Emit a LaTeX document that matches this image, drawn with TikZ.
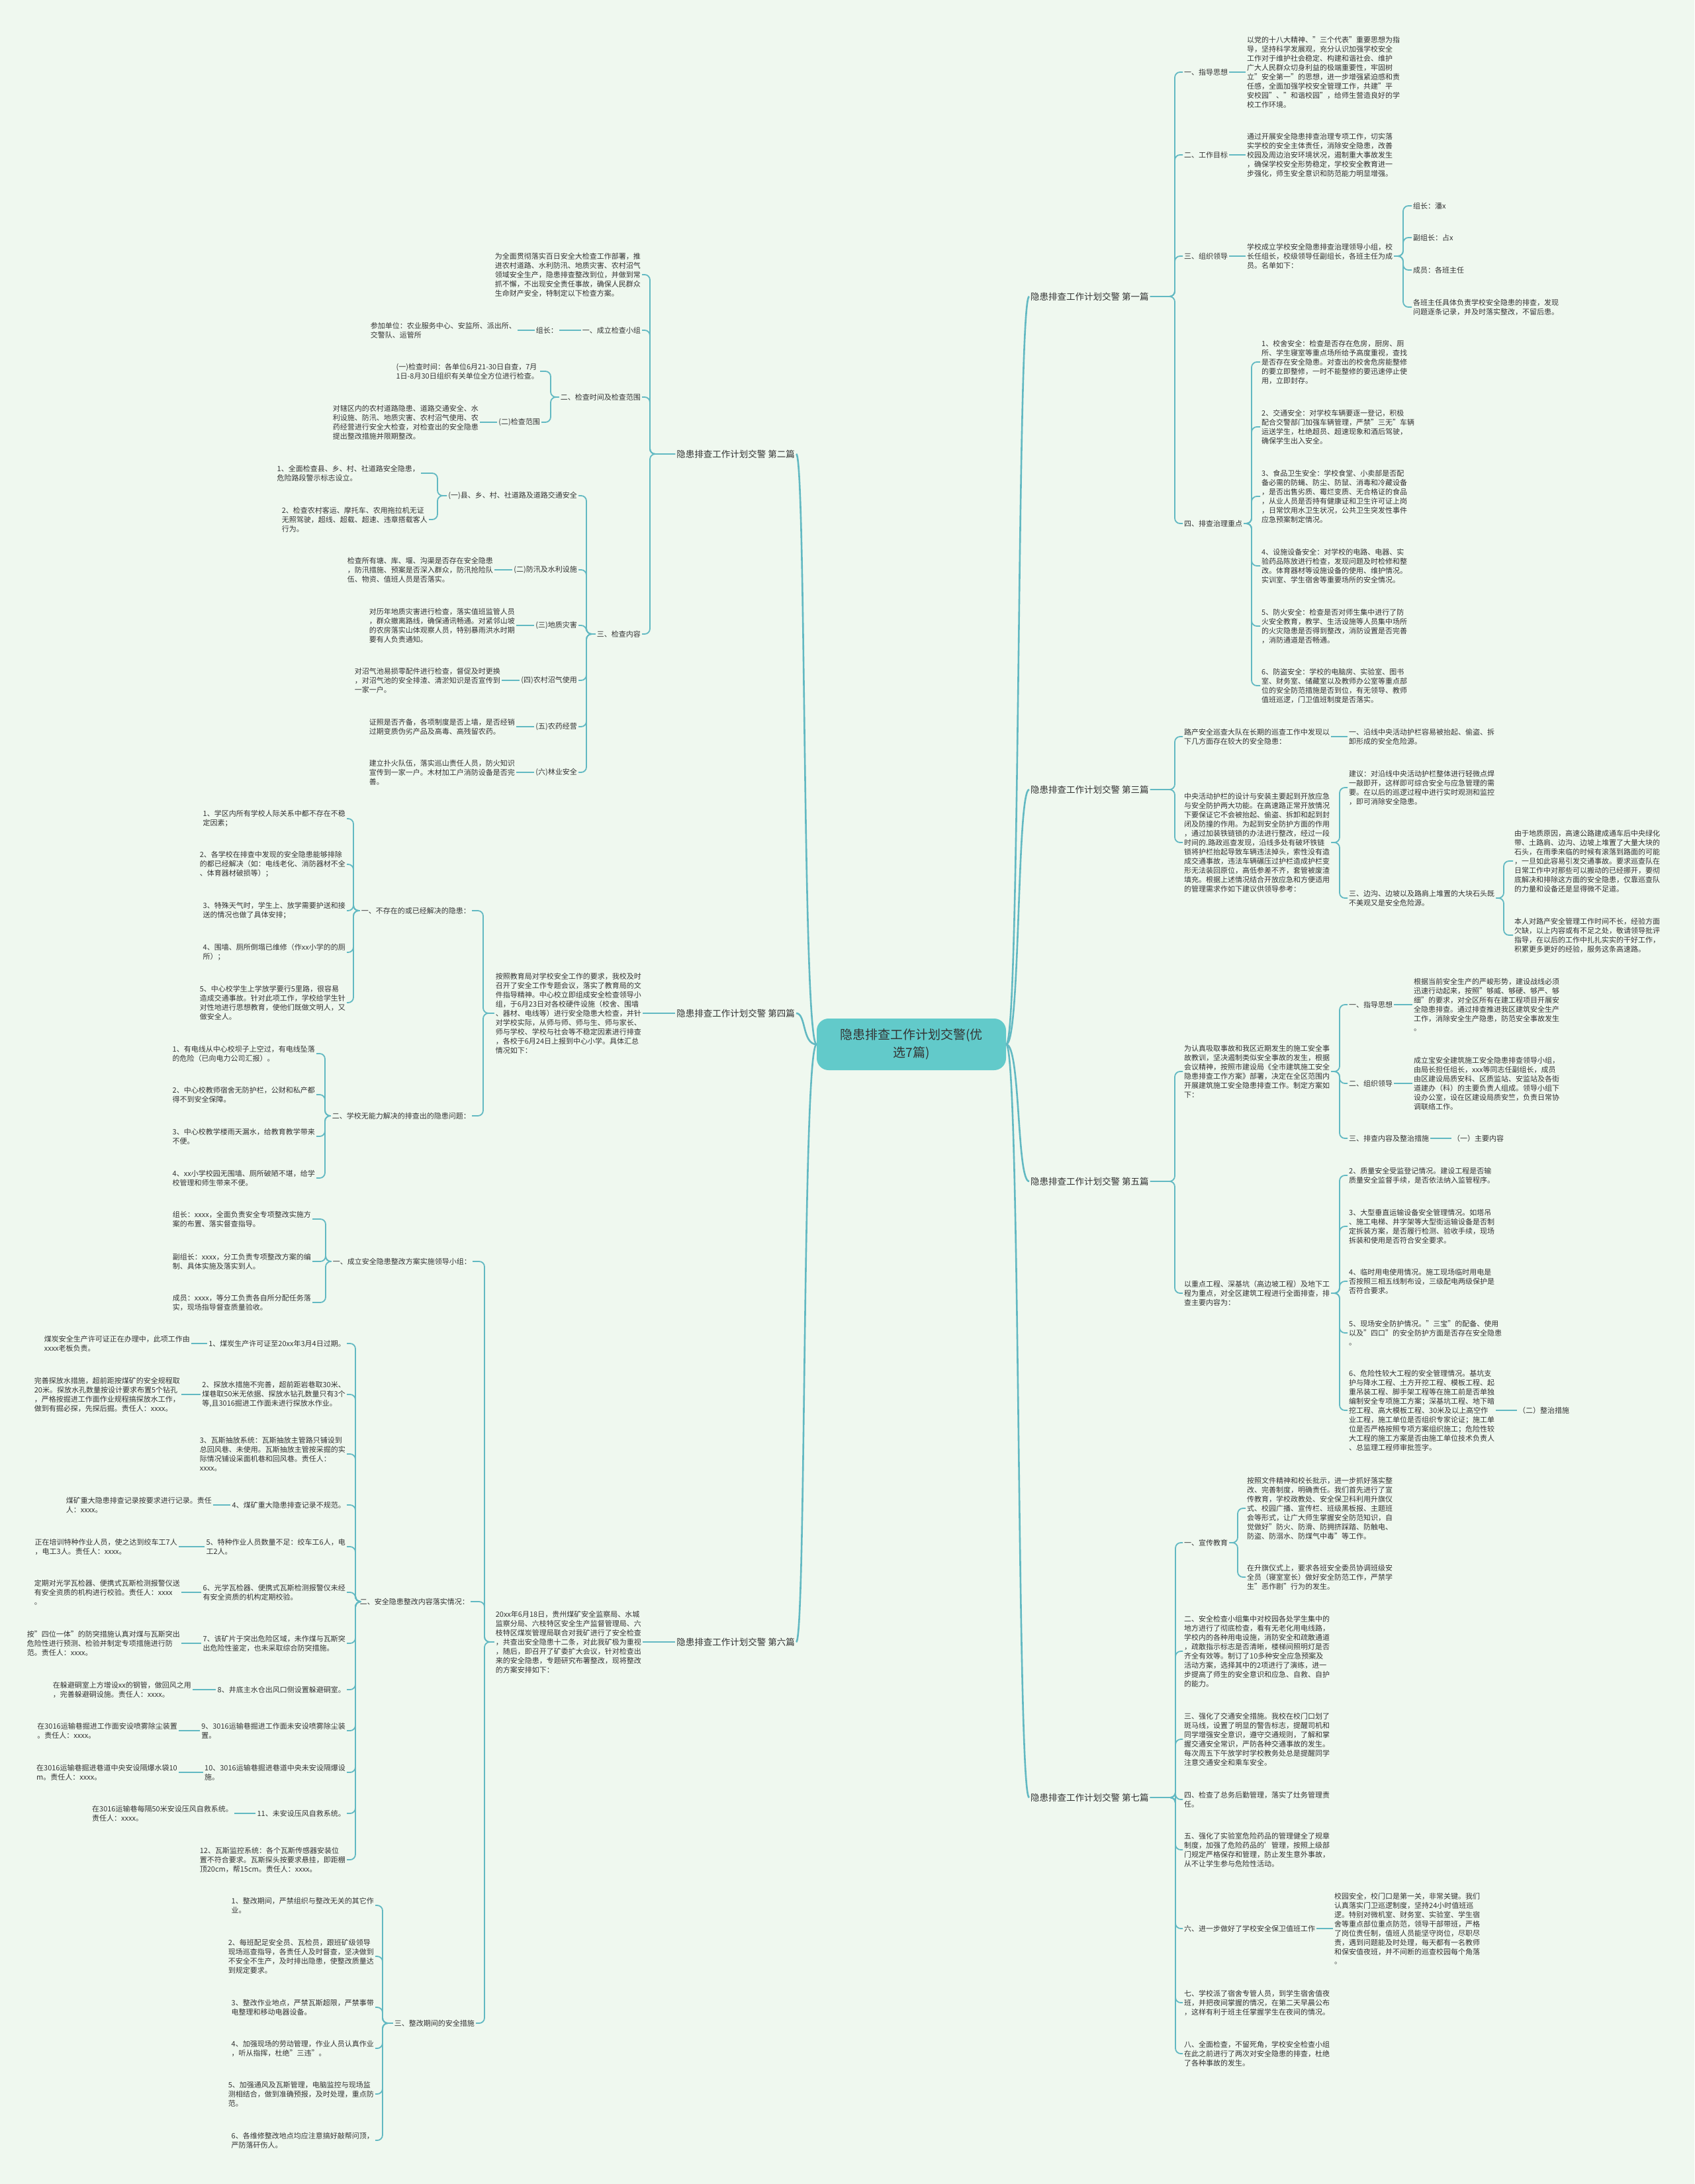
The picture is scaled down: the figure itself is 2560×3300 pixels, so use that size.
\documentclass[tikz,border=0pt]{standalone}
\usepackage{fontspec}
\setmainfont{Noto Sans CJK SC}
\definecolor{bgc}{HTML}{EFF8EF}
\definecolor{linec}{HTML}{62B9C2}
\definecolor{ctrc}{HTML}{62CACA}
\definecolor{txt}{HTML}{333333}
\tikzset{
  t/.style={font=\fontsize{11}{14}\selectfont, text=txt, align=left, inner sep=2pt},
  tr/.style={t, anchor=west},
  tl/.style={t, anchor=east},
  lab/.style={font=\fontsize{13.5}{16}\selectfont, text=txt, inner sep=2pt},
  conn/.style={draw=linec, line width=1.8pt, rounded corners=8pt},
  mainc/.style={draw=linec, line width=2.6pt},
}
\newcommand\myrc[3]{\draw[conn] (#1.east) -- (#2,0 |- #1.east) |- (#3.west);}
\newcommand\mylc[3]{\draw[conn] (#1.west) -- (#2,0 |- #1.west) |- (#3.east);}
\newcommand\mysr[2]{\draw[conn] (#1.east) -- (#2.west);}
\newcommand\mysl[2]{\draw[conn] (#1.west) -- (#2.east);}
\begin{document}
\begin{tikzpicture}[x=1pt,y=-1pt]
\fill[bgc] (0,0) rectangle (2560,3300);
\useasboundingbox (0,0) rectangle (2560,3300);

% centre
\node[draw=none, fill=ctrc, rounded corners=18pt, minimum width=286pt, minimum height=78pt, align=center, text=txt, font=\fontsize{19}{27}\selectfont] (ctr) at (1377,1578) {隐患排查工作计划交警(优\\选7篇)};

% level-1 labels
\node[lab,anchor=west] (r1) at (1555,448) {隐患排查工作计划交警 第一篇};
\node[lab,anchor=west] (r3) at (1555,1193) {隐患排查工作计划交警 第三篇};
\node[lab,anchor=west] (r5) at (1555,1785) {隐患排查工作计划交警 第五篇};
\node[lab,anchor=west] (r7) at (1555,2716) {隐患排查工作计划交警 第七篇};
\node[lab,anchor=east] (l2) at (1203,686) {隐患排查工作计划交警 第二篇};
\node[lab,anchor=east] (l4) at (1203,1531) {隐患排查工作计划交警 第四篇};
\node[lab,anchor=east] (l6) at (1203,2481) {隐患排查工作计划交警 第六篇};

\foreach \n in {r1,r3,r5,r7}{
  \draw[mainc] (ctr.east) .. controls (1542,1578) and (1536,0 |- \n.west) .. (\n.west);
}
\foreach \n in {l2,l4,l6}{
  \draw[mainc] (ctr.west) .. controls (1212,1578) and (1218,0 |- \n.east) .. (\n.east);
}

% ================= 第一篇 =================
\node[tr] (a1) at (1787,109) {一、指导思想};
\node[tr] (a1t) at (1882,109) {以党的十八大精神、"三个代表"重要思想为指\\导，坚持科学发展观，充分认识加强学校安全\\工作对于维护社会稳定、构建和谐社会、维护\\广大人民群众切身利益的极端重要性，牢固树\\立"安全第一"的思想，进一步增强紧迫感和责\\任感，全面加强学校安全管理工作，共建"平\\安校园"、"和谐校园"，给师生营造良好的学\\校工作环境。};
\node[tr] (a2) at (1787,234) {二、工作目标};
\node[tr] (a2t) at (1882,234) {通过开展安全隐患排查治理专项工作，切实落\\实学校的安全主体责任，消除安全隐患，改善\\校园及周边治安环境状况，遏制重大事故发生\\，确保学校安全形势稳定，学校安全教育进一\\步强化，师生安全意识和防范能力明显增强。};
\node[tr] (a3) at (1787,387) {三、组织领导};
\node[tr] (a3t) at (1882,387) {学校成立学校安全隐患排查治理领导小组，校\\长任组长，校级领导任副组长，各班主任为成\\员。名单如下：};
\node[tr] (a3a) at (2133,311) {组长：潘x};
\node[tr] (a3b) at (2133,359) {副组长：占x};
\node[tr] (a3c) at (2133,408) {成员：各班主任};
\node[tr] (a3d) at (2133,464) {各班主任具体负责学校安全隐患的排查，发现\\问题逐条记录，并及时落实整改，不留后患。};
\node[tr] (a4) at (1787,791) {四、排查治理重点};
\node[tr] (a41) at (1904,547) {1、校舍安全：检查是否存在危房，厨房、厕\\所、学生寝室等重点场所给予高度重视，查找\\是否存在安全隐患。对查出的校舍危房能整修\\的要立即整修，一时不能整修的要迅速停止使\\用，立即封存。};
\node[tr] (a42) at (1904,645) {2、交通安全：对学校车辆要逐一登记，积极\\配合交警部门加强车辆管理，严禁"三无"车辆\\运送学生，杜绝超员、超速现象和酒后驾驶，\\确保学生出入安全。};
\node[tr] (a43) at (1904,750) {3、食品卫生安全：学校食堂、小卖部是否配\\备必需的防蝇、防尘、防鼠、消毒和冷藏设备\\，是否出售劣质、霉烂变质、无合格证的食品\\，从业人员是否持有健康证和卫生许可证上岗\\，日常饮用水卫生状况，公共卫生突发性事件\\应急预案制定情况。};
\node[tr] (a44) at (1904,855) {4、设施设备安全：对学校的电路、电器、实\\验药品陈放进行检查，发现问题及时检修和整\\改。体育器材等设施设备的使用、维护情况。\\实训室、学生宿舍等重要场所的安全情况。};
\node[tr] (a45) at (1904,946) {5、防火安全：检查是否对师生集中进行了防\\火安全教育，教学、生活设施等人员集中场所\\的火灾隐患是否得到整改，消防设置是否完善\\，消防通道是否畅通。};
\node[tr] (a46) at (1904,1036) {6、防盗安全：学校的电脑房、实验室、图书\\室、财务室、储藏室以及教师办公室等重点部\\位的安全防范措施是否到位，有无领导、教师\\值班巡逻，门卫值班制度是否落实。};
\foreach \c in {a1,a2,a3,a4}{\myrc{r1}{1775}{\c}}
\mysr{a1}{a1t}\mysr{a2}{a2t}\mysr{a3}{a3t}
\foreach \c in {a3a,a3b,a3c,a3d}{\myrc{a3t}{2120}{\c}}
\foreach \c in {a41,a42,a43,a44,a45,a46}{\myrc{a4}{1891}{\c}}

% ================= 第三篇 =================
\node[tr] (b1) at (1787,1113) {路产安全巡查大队在长期的巡查工作中发现以\\下几方面存在较大的安全隐患：};
\node[tr] (b1a) at (2036,1113) {一、沿线中央活动护栏容易被抬起、偷盗、拆\\卸形成的安全危险源。};
\node[tr] (b2) at (1787,1273) {中央活动护栏的设计与安装主要起到开放应急\\与安全防护两大功能。在高速路正常开放情况\\下要保证它不会被抬起、偷盗、拆卸和起到封\\闭及防撞的作用。为起到安全防护方面的作用\\，通过加装铁链锁的办法进行整改，经过一段\\时间的.路政巡查发现，沿线多处有破坏铁链\\锁将护栏抬起导致车辆违法掉头，索性没有造\\成交通事故，违法车辆碾压过护栏造成护栏变\\形无法装回原位，高低参差不齐，套管被废渣\\填充。根据上述情况结合开放应急和方便适用\\的管理需求作如下建议供领导参考：};
\node[tr] (b2a) at (2036,1190) {建议：对沿线中央活动护栏整体进行轻微点焊\\一敲即开，这样即可综合安全与应急管理的需\\要。在以后的巡逻过程中进行实时观测和监控\\，即可消除安全隐患。};
\node[tr] (b2b) at (2036,1357) {三、边沟、边坡以及路肩上堆置的大块石头既\\不美观又是安全危险源。};
\node[tr] (b2b1) at (2286,1301) {由于地质原因，高速公路建成通车后中央绿化\\带、土路肩、边沟、边坡上堆置了大量大块的\\石头，在雨季来临的时候有滚落到路面的可能\\，一旦如此容易引发交通事故。要求巡查队在\\日常工作中对那些可以搬动的已经挪开，要彻\\底解决和排除这方面的安全隐患，仅靠巡查队\\的力量和设备还是显得微不足道。};
\node[tr] (b2b2) at (2286,1413) {本人对路产安全管理工作时间不长，经验方面\\欠缺，以上内容或有不足之处，敬请领导批评\\指导，在以后的工作中扎扎实实的干好工作，\\积累更多更好的经验，服务这条高速路。};
\myrc{r3}{1775}{b1}\myrc{r3}{1775}{b2}
\mysr{b1}{b1a}
\myrc{b2}{2024}{b2a}\myrc{b2}{2024}{b2b}
\myrc{b2b}{2272}{b2b1}\myrc{b2b}{2272}{b2b2}

% ================= 第五篇 =================
\node[tr] (c1) at (1787,1619) {为认真吸取事故和我区近期发生的施工安全事\\故教训，坚决遏制类似安全事故的发生，根据\\会议精神，按照市建设局《全市建筑施工安全\\隐患排查工作方案》部署，决定在全区范围内\\开展建筑施工安全隐患排查工作。制定方案如\\下：};
\node[tr] (c1a) at (2036,1518) {一、指导思想};
\node[tr] (c1at) at (2134,1518) {根据当前安全生产的严峻形势，建设战线必须\\迅速行动起来，按照"够威、够硬、够严、够\\细"的要求，对全区所有在建工程项目开展安\\全隐患排查。通过排查推进我区建筑安全生产\\工作，消除安全生产隐患，防范安全事故发生\\。};
\node[tr] (c1b) at (2036,1637) {二、组织领导};
\node[tr] (c1bt) at (2134,1637) {成立宝安全建筑施工安全隐患排查领导小组，\\由局长担任组长，xxx等同志任副组长，成员\\由区建设局质安科、区质监站、安监站及各街\\道建办（科）的主要负责人组成。领导小组下\\设办公室，设在区建设局质安竺，负责日常协\\调联络工作。};
\node[tr] (c1c) at (2036,1720) {三、排查内容及整治措施};
\node[tr] (c1ct) at (2193,1720) {（一）主要内容};
\node[tr] (c2) at (1787,1954) {以重点工程、深基坑（高边坡工程）及地下工\\程为重点，对全区建筑工程进行全面排查，排\\查主要内容为：};
\node[tr] (c22) at (2036,1776) {2、质量安全受监登记情况。建设工程是否输\\质量安全监督手续，是否依法纳入监管程序。};
\node[tr] (c23) at (2036,1853) {3、大型垂直运输设备安全管理情况。如塔吊\\、施工电梯、井字架等大型街运输设备是否制\\定拆装方案，是否履行检测、验收手续，现场\\拆装和使用是否符合安全要求。};
\node[tr] (c24) at (2036,1936) {4、临时用电使用情况。施工现场临时用电是\\否按照三相五线制布设，三级配电两级保护是\\否符合要求。};
\node[tr] (c25) at (2036,2014) {5、现场安全防护情况。"三宝"的配备、使用\\以及"四口"的安全防护方面是否存在安全隐患\\。};
\node[tr] (c26) at (2036,2131) {6、危险性较大工程的安全管理情况。基坑支\\护与降水工程、土方开挖工程、模板工程、起\\重吊装工程、脚手架工程等在施工前是否单独\\编制安全专项施工方案；深基坑工程、地下暗\\挖工程、高大模板工程、30米及以上高空作\\业工程，施工单位是否组织专家论证；施工单\\位是否严格按照专项方案组织施工；危险性较\\大工程的施工方案是否由施工单位技术负责人\\、总监理工程师审批签字。};
\node[tr] (c26a) at (2292,2131) {（二）整治措施};
\myrc{r5}{1775}{c1}\myrc{r5}{1775}{c2}
\foreach \c in {c1a,c1b,c1c}{\myrc{c1}{2024}{\c}}
\mysr{c1a}{c1at}\mysr{c1b}{c1bt}\mysr{c1c}{c1ct}
\foreach \c in {c22,c23,c24,c25,c26}{\myrc{c2}{2024}{\c}}
\mysr{c26}{c26a}

% ================= 第七篇 =================
\node[tr] (d1) at (1787,2331) {一、宣传教育};
\node[tr] (d1a) at (1882,2279) {按照文件精神和校长批示，进一步抓好落实整\\改、完善制度，明确责任。我们首先进行了宣\\传教育，学校政教处、安全保卫科利用升旗仪\\式、校园广播、宣传栏、班级黑板报、主题班\\会等形式，让广大师生掌握安全防范知识，自\\觉做好"防火、防滑、防拥挤踩踏、防触电、\\防盗、防溺水、防煤气中毒"等工作。};
\node[tr] (d1b) at (1882,2383) {在升旗仪式上，要求各班安全委员协调班级安\\全员（寝室室长）做好安全防范工作，严禁学\\生"恶作剧"行为的发生。};
\node[tr] (d2) at (1787,2495) {二、安全检查小组集中对校园各处学生集中的\\地方进行了彻底检查，看有无老化用电线路，\\学校内的各种用电设施，消防安全和疏散通道\\，疏散指示标志是否清晰，楼梯间照明灯是否\\齐全有效等。制订了10多种安全应急预案及\\活动方案，选择其中的2项进行了演练，进一\\步提高了师生的安全意识和应急、自救、自护\\的能力。};
\node[tr] (d3) at (1787,2628) {三、强化了交通安全措施。我校在校门口划了\\斑马线，设置了明显的警告标志，提醒司机和\\同学增强安全意识，遵守交通规则，了解和掌\\握交通安全常识，严防各种交通事故的发生。\\每次周五下午放学时学校教务处总是提醒同学\\注意交通安全和乘车安全。};
\node[tr] (d4) at (1787,2719) {四、检查了总务后勤管理，落实了灶务管理责\\任。};
\node[tr] (d5) at (1787,2795) {五、强化了实验室危险药品的管理健全了规章\\制度，加强了危险药品的'管理，按照上级部\\门规定严格保存和管理，防止发生意外事故，\\从不让学生参与危险性活动。};
\node[tr] (d6) at (1787,2914) {六、进一步做好了学校安全保卫值班工作};
\node[tr] (d6t) at (2014,2914) {校园安全，校门口是第一关，非常关键。我们\\认真落实门卫巡逻制度，坚持24小时值班巡\\逻。特别对微机室、财务室、实验室、学生宿\\舍等重点部位重点防范，领导干部带班，严格\\了岗位责任制，值班人员能坚守岗位，尽职尽\\责，遇到问题能及时处理，每天都有一名教师\\和保安值夜班，并不间断的巡查校园每个角落\\。};
\node[tr] (d7) at (1787,3026) {七、学校派了宿舍专管人员，到学生宿舍值夜\\班，并把夜间掌握的情况，在第二天早晨公布\\，这样有利于班主任掌握学生在夜间的情况。};
\node[tr] (d8) at (1787,3103) {八、全面检查，不留死角，学校安全检查小组\\在此之前进行了两次对安全隐患的排查，杜绝\\了各种事故的发生。};
\foreach \c in {d1,d2,d3,d4,d5,d6,d7,d8}{\myrc{r7}{1776}{\c}}
\myrc{d1}{1870}{d1a}\myrc{d1}{1870}{d1b}
\mysr{d6}{d6t}

% ================= 第二篇 =================
\node[tl] (e1) at (970,415) {为全面贯彻落实百日安全大检查工作部署，推\\进农村道路、水利防汛、地质灾害、农村沼气\\领域安全生产，隐患排查整改到位，并做到常\\抓不懈，不出现安全责任事故，确保人民群众\\生命财产安全，特制定以下检查方案。};
\node[tl] (e2) at (970,499) {一、成立检查小组};
\node[tl] (e2z) at (845,499) {组长：};
\node[tl] (e2t) at (782,499) {参加单位：农业服务中心、安监所、派出所、\\交警队、运管所};
\node[tl] (e3) at (970,600) {二、检查时间及检查范围};
\node[tl] (e3a) at (816,561) {(一)检查时间：各单位6月21-30日自查，7月\\1日-8月30日组织有关单位全方位进行检查。};
\node[tl] (e3b) at (818,638) {(二)检查范围};
\node[tl] (e3bt) at (725,638) {对辖区内的农村道路隐患、道路交通安全、水\\利设施、防汛、地质灾害、农村沼气使用、农\\药经营进行安全大检查，对检查出的安全隐患\\提出整改措施并限期整改。};
\node[tl] (e4) at (970,958) {三、检查内容};
\node[tl] (f1) at (874,749) {(一)县、乡、村、社道路及道路交通安全};
\node[tl] (f1a) at (636,715) {1、全面检查县、乡、村、社道路安全隐患，\\危险路段警示标志设立。};
\node[tl] (f1b) at (648,785) {2、检查农村客运、摩托车、农用拖拉机无证\\无照驾驶，超线、超载、超速、违章搭载客人\\行为。};
\node[tl] (f2) at (874,861) {(二)防汛及水利设施};
\node[tl] (f2t) at (747,861) {检查所有塘、库、堰、沟渠是否存在安全隐患\\，防汛措施、预案是否深入群众，防汛抢险队\\伍、物资、值班人员是否落实。};
\node[tl] (f3) at (874,945) {(三)地质灾害};
\node[tl] (f3t) at (780,945) {对历年地质灾害进行检查，落实值班监管人员\\，群众撤离路线，确保通讯畅通。对紧邻山坡\\的农房落实山体观察人员，特别暴雨洪水时期\\要有人负责通知。};
\node[tl] (f4) at (874,1028) {(四)农村沼气使用};
\node[tl] (f4t) at (758,1028) {对沼气池易损零配件进行检查，督促及时更换\\，对沼气池的安全排渣、清淤知识是否宣传到\\一家一户。};
\node[tl] (f5) at (874,1098) {(五)农药经营};
\node[tl] (f5t) at (780,1098) {证照是否齐备，各项制度是否上墙，是否经销\\过期变质伪劣产品及高毒、高残留农药。};
\node[tl] (f6) at (874,1167) {(六)林业安全};
\node[tl] (f6t) at (780,1167) {建立扑火队伍，落实巡山责任人员，防火知识\\宣传到一家一户。木材加工户消防设备是否完\\善。};
\foreach \c in {e1,e2,e3,e4}{\mylc{l2}{982}{\c}}
\mysl{e2}{e2z}\mysl{e2z}{e2t}
\mylc{e3}{832}{e3a}\mylc{e3}{832}{e3b}
\mysl{e3b}{e3bt}
\foreach \c in {f1,f2,f3,f4,f5,f6}{\mylc{e4}{886}{\c}}
\mylc{f1}{661}{f1a}\mylc{f1}{661}{f1b}
\mysl{f2}{f2t}\mysl{f3}{f3t}\mysl{f4}{f4t}\mysl{f5}{f5t}\mysl{f6}{f6t}

% ================= 第四篇 =================
\node[tl] (g0) at (971,1531) {按照教育局对学校安全工作的要求，我校及时\\召开了安全工作专题会议，落实了教育局的文\\件指导精神。中心校立即组成安全检查领导小\\组，于6月23日对各校硬件设施（校舍、围墙\\、器材、电线等）进行安全隐患大检查，并针\\对学校实际，从师与师、师与生、师与家长、\\师与学校、学校与社会等不稳定因素进行排查\\，各校于6月24日上报到中心小学。具体汇总\\情况如下：};
\node[tl] (g1) at (713,1376) {一、不存在的或已经解决的隐患：};
\node[tl] (g11) at (524,1237) {1、学区内所有学校人际关系中都不存在不稳\\定因素；};
\node[tl] (g12) at (524,1306) {2、各学校在排查中发现的安全隐患能够排除\\的都已经解决（如：电线老化、消防器材不全\\、体育器材破损等）；};
\node[tl] (g13) at (524,1376) {3、特殊天气时，学生上、放学需要护送和接\\送的情况也做了具体安排；};
\node[tl] (g14) at (524,1439) {4、围墙、厕所倒塌已维修（作xx小学的的厕\\所）；};
\node[tl] (g15) at (524,1515) {5、中心校学生上学放学要行5里路，很容易\\造成交通事故。针对此项工作，学校给学生针\\对性地进行思想教育，使他们既做文明人，又\\做安全人。};
\node[tl] (g2) at (713,1686) {二、学校无能力解决的排查出的隐患问题：};
\node[tl] (g21) at (478,1592) {1、有电线从中心校坝子上空过，有电线坠落\\的危险（已向电力公司汇报）。};
\node[tl] (g22) at (478,1654) {2、中心校教师宿舍无防护栏，公财和私产都\\得不到安全保障。};
\node[tl] (g23) at (478,1717) {3、中心校教学楼雨天漏水，给教育教学带来\\不便。};
\node[tl] (g24) at (478,1780) {4、xx小学校园无围墙、厕所破陋不堪，给学\\校管理和师生带来不便。};
\mysl{l4}{g0}
\mylc{g0}{730}{g1}\mylc{g0}{730}{g2}
\foreach \c in {g11,g12,g13,g14,g15}{\mylc{g1}{534}{\c}}
\foreach \c in {g21,g22,g23,g24}{\mylc{g2}{491}{\c}}

% ================= 第六篇 =================
\node[tl] (h0) at (971,2481) {20xx年6月18日，贵州煤矿安全监察局、水城\\监察分局、六枝特区安全生产监督管理局、六\\枝特区煤炭管理局联合对我矿进行了安全检查\\，共查出安全隐患十二条，对此我矿极为重视\\，随后，即召开了矿委扩大会议，针对检查出\\来的安全隐患，专题研究布署整改，现将整改\\的方案安排如下：};
\node[tl] (h1) at (714,1906) {一、成立安全隐患整改方案实施领导小组：};
\node[tl] (h11) at (472,1842) {组长：xxxx，全面负责安全专项整改实施方\\案的布置、落实督查指导。};
\node[tl] (h12) at (472,1906) {副组长：xxxx，分工负责专项整改方案的编\\制、具体实施及落实到人。};
\node[tl] (h13) at (472,1968) {成员：xxxx，等分工负责各自所分配任务落\\实，现场指导督查质量验收。};
\node[tl] (h2) at (711,2420) {二、安全隐患整改内容落实情况：};
\node[tl] (h201) at (524,2030) {1、煤炭生产许可证至20xx年3月4日过期。};
\node[tl] (h201c) at (289,2030) {煤炭安全生产许可证正在办理中，此项工作由\\xxxx老板负责。};
\node[tl] (h202) at (524,2107) {2、探放水措施不完善，超前距岩巷取30米、\\煤巷取50米无依据、探放水钻孔数量只有3个\\等,且3016掘进工作面未进行探放水作业。};
\node[tl] (h202c) at (274,2107) {完善探放水措施，超前距按煤矿的安全规程取\\20米。探放水孔数量按设计要求布置5个钻孔\\，严格按掘进工作面作业规程搞探放水工作，\\做到有掘必探，先探后掘。责任人：xxxx。};
\node[tl] (h203) at (524,2197) {3、瓦斯抽放系统：瓦斯抽放主管路只铺设到\\总回风巷、未使用。瓦斯抽放主管按采掘的实\\际情况铺设采面机巷和回风巷。责任人：\\xxxx。};
\node[tl] (h204) at (524,2274) {4、煤矿重大隐患排查记录不规范。};
\node[tl] (h204c) at (322,2274) {煤矿重大隐患排查记录按要求进行记录。责任\\人：xxxx。};
\node[tl] (h205) at (524,2337) {5、特种作业人员数量不足：绞车工6人，电\\工2人。};
\node[tl] (h205c) at (270,2337) {正在培训特种作业人员，使之达到绞车工7人\\，电工3人。责任人：xxxx。};
\node[tl] (h206) at (524,2406) {6、光学瓦检器、便携式瓦斯检测报警仪未经\\有安全资质的机构定期校验。};
\node[tl] (h206c) at (274,2406) {定期对光学瓦检器、便携式瓦斯检测报警仪送\\有安全资质的机构进行校验。责任人：xxxx\\。};
\node[tl] (h207) at (524,2483) {7、该矿片于突出危险区域，未作煤与瓦斯突\\出危险性鉴定，也未采取综合防突措施。};
\node[tl] (h207c) at (274,2483) {按"四位一体"的防突措施认真对煤与瓦斯突出\\危险性进行预测、检验并制定专项措施进行防\\范。责任人：xxxx。};
\node[tl] (h208) at (524,2553) {8、井底主水仓出风口侧设置躲避硐室。};
\node[tl] (h208c) at (291,2553) {在躲避硐室上方增设xx的钢管，做回风之用\\，完善躲避硐设施。责任人：xxxx。};
\node[tl] (h209) at (524,2615) {9、3016运输巷掘进工作面未安设喷雾除尘装\\置。};
\node[tl] (h209c) at (270,2615) {在3016运输巷掘进工作面安设喷雾除尘装置\\。责任人：xxxx。};
\node[tl] (h210) at (524,2678) {10、3016运输巷掘进巷道中央未安设隔爆设\\施。};
\node[tl] (h210c) at (270,2678) {在3016运输巷掘进巷道中央安设隔爆水袋10\\m。责任人：xxxx。};
\node[tl] (h211) at (524,2740) {11、未安设压风自救系统。};
\node[tl] (h211c) at (354,2740) {在3016运输巷每隔50米安设压风自救系统。\\责任人：xxxx。};
\node[tl] (h212) at (524,2810) {12、瓦斯监控系统：各个瓦斯传感器安装位\\置不符合要求。瓦斯探头按要求悬挂，即距棚\\顶20cm，帮15cm。责任人：xxxx。};
\node[tl] (h3) at (719,3057) {三、整改期间的安全措施};
\node[tl] (h31) at (567,2879) {1、整改期间，严禁组织与整改无关的其它作\\业。};
\node[tl] (h32) at (567,2956) {2、每班配足安全员、瓦检员，跟班矿级领导\\现场巡查指导，各责任人及时督查，坚决做到\\不安全不生产，及时排出隐患，使整改质量达\\到规定要求。};
\node[tl] (h33) at (567,3033) {3、整改作业地点，严禁瓦斯超限，严禁事带\\电整理和移动电器设备。};
\node[tl] (h34) at (567,3095) {4、加强现场的劳动管理，作业人员认真作业\\，听从指挥，杜绝"三违"。};
\node[tl] (h35) at (567,3164) {5、加强通风及瓦斯管理，电脑监控与现场监\\测相结合，做到准确预报，及时处理，重点防\\范。};
\node[tl] (h36) at (567,3234) {6、各维修整改地点均应注意搞好敲帮问顶，\\严防落矸伤人。};
\mysl{l6}{h0}
\foreach \c in {h1,h2,h3}{\mylc{h0}{732}{\c}}
\foreach \c in {h11,h12,h13}{\mylc{h1}{492}{\c}}
\foreach \c in {h201,h202,h203,h204,h205,h206,h207,h208,h209,h210,h211,h212}{\mylc{h2}{537}{\c}}
\foreach \c in {h201,h202,h204,h205,h206,h207,h208,h209,h210,h211}{\mysl{\c}{\c c}}
\foreach \c in {h31,h32,h33,h34,h35,h36}{\mylc{h3}{578}{\c}}
\end{tikzpicture}
\end{document}
